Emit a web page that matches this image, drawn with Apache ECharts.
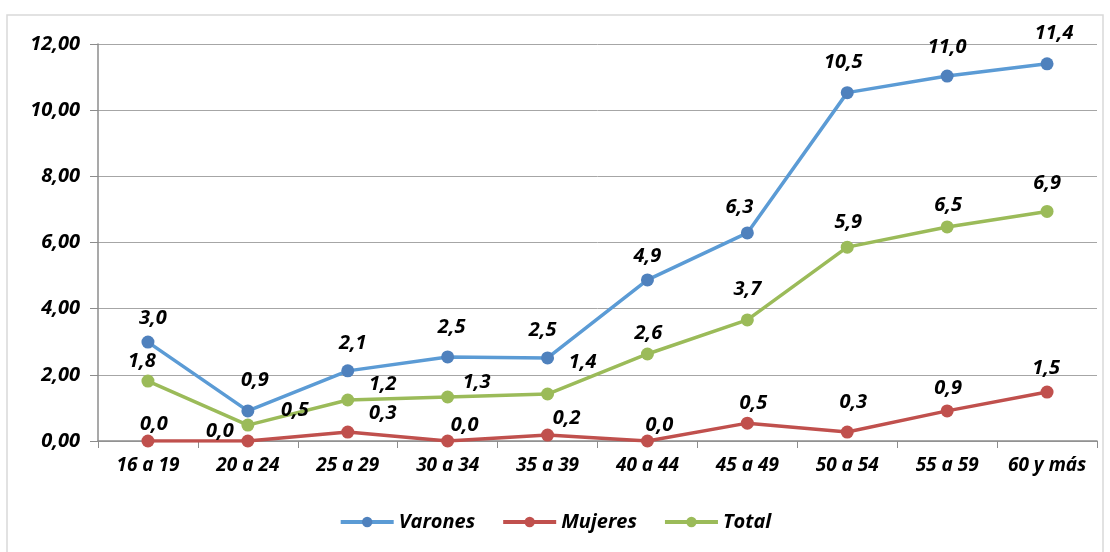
<!DOCTYPE html>
<html>
<head>
<meta charset="utf-8">
<script src="https://cdn.jsdelivr.net/npm/echarts@6/dist/echarts.min.js"></script>
<style>
  html, body { margin: 0; padding: 0; background: #fff; }
  #chart { width: 1110px; height: 552px; }
</style>
</head>
<body>
<div id="chart"></div>
<script>
// categorias de edad
var categorias = ['16 a 19', '20 a 24', '25 a 29', '30 a 34', '35 a 39', '40 a 44', '45 a 49', '50 a 54', '55 a 59', '60 y más'];
var varones = [2.99, 0.91, 2.12, 2.54, 2.51, 4.87, 6.29, 10.53, 11.03, 11.4];
var mujeres = [0.0, 0.0, 0.27, 0.0, 0.18, 0.0, 0.54, 0.27, 0.91, 1.48];
var total = [1.81, 0.48, 1.24, 1.33, 1.42, 2.63, 3.66, 5.86, 6.47, 6.94];
var yTicks = [0, 2, 4, 6, 8, 10, 12];

// desplazamiento de etiquetas (como en el original)
var offVarones = [[5,-24],[7,-31],[5,-28],[4,-30],[-5,-28],[0,-24],[-8,-26],[-4,-30],[0,-29],[7,-31]];
var offMujeres = [[6,-17],[-28,-10],[35,-19],[17,-16],[19,-17],[12,-16],[6,-20],[6,-30],[1,-23],[-1,-24]];
var offTotal = [[-6,-20],[47,-15],[35,-16],[29,-15],[35,-32],[1,-21],[0,-31],[1,-25],[1,-22],[0,-28]];

var fuente = 'Open Sans';

function coma(v, d) {
  return v.toFixed(d).replace('.', ',');
}

function serie(nombre, datos, offs, colorLinea, colorPunto) {
  return {
    name: nombre,
    type: 'line',
    data: datos.map(function (v, i) {
      return { value: v, label: { offset: offs[i] } };
    }),
    symbol: 'circle',
    symbolSize: 13,
    lineStyle: { color: colorLinea, width: 3.5 },
    itemStyle: { color: colorPunto },
    label: {
      show: true,
      position: 'inside',
      formatter: function (p) { return coma(p.value, 1); },
      fontFamily: fuente,
      fontStyle: 'italic',
      fontWeight: 'bold',
      fontSize: 20,
      color: '#000'
    },
    z: 3
  };
}

var chart = echarts.init(document.getElementById('chart'));
chart.setOption({
  animation: false,
  backgroundColor: '#fff',
  graphic: [{
    type: 'rect',
    shape: { x: 7, y: 15, width: 1096, height: 600 },
    style: { fill: 'none', stroke: '#d9d9d9', lineWidth: 1.5 },
    silent: true
  }],
  grid: { left: 98, right: 13, top: 44, bottom: 111 },
  legend: {
    bottom: 15,
    left: 'center',
    itemWidth: 53,
    itemHeight: 13,
    itemGap: 26,
    lineStyle: { width: 4 },
    textStyle: {
      fontFamily: fuente,
      fontStyle: 'italic',
      fontWeight: 'bold',
      fontSize: 20,
      color: '#000'
    },
    data: ['Varones', 'Mujeres', 'Total']
  },
  xAxis: {
    type: 'category',
    data: categorias,
    boundaryGap: true,
    axisLine: { lineStyle: { color: '#8c8c8c', width: 1.5 } },
    axisTick: { show: true, length: 7, lineStyle: { color: '#8c8c8c' } },
    axisLabel: {
      interval: 0,
      hideOverlap: false,
      margin: 15,
      fontFamily: fuente,
      fontStyle: 'italic',
      fontWeight: 'bold',
      fontSize: 19,
      color: '#000'
    }
  },
  yAxis: {
    type: 'value',
    min: yTicks[0],
    max: yTicks[yTicks.length - 1],
    interval: 2,
    axisLine: { show: true, lineStyle: { color: '#8c8c8c', width: 1.5 } },
    axisTick: { show: true, length: 8, lineStyle: { color: '#8c8c8c' } },
    splitLine: { lineStyle: { color: '#a6a6a6', width: 1 } },
    axisLabel: {
      margin: 18,
      formatter: function (v) { return coma(v, 2); },
      fontFamily: fuente,
      fontStyle: 'italic',
      fontWeight: 'bold',
      fontSize: 20,
      color: '#000'
    }
  },
  series: [
    serie('Varones', varones, offVarones, '#5b9bd5', '#4f81bd'),
    serie('Mujeres', mujeres, offMujeres, '#c0504d', '#c0504d'),
    serie('Total', total, offTotal, '#9bbb59', '#9bbb59')
  ]
});
</script>
</body>
</html>
